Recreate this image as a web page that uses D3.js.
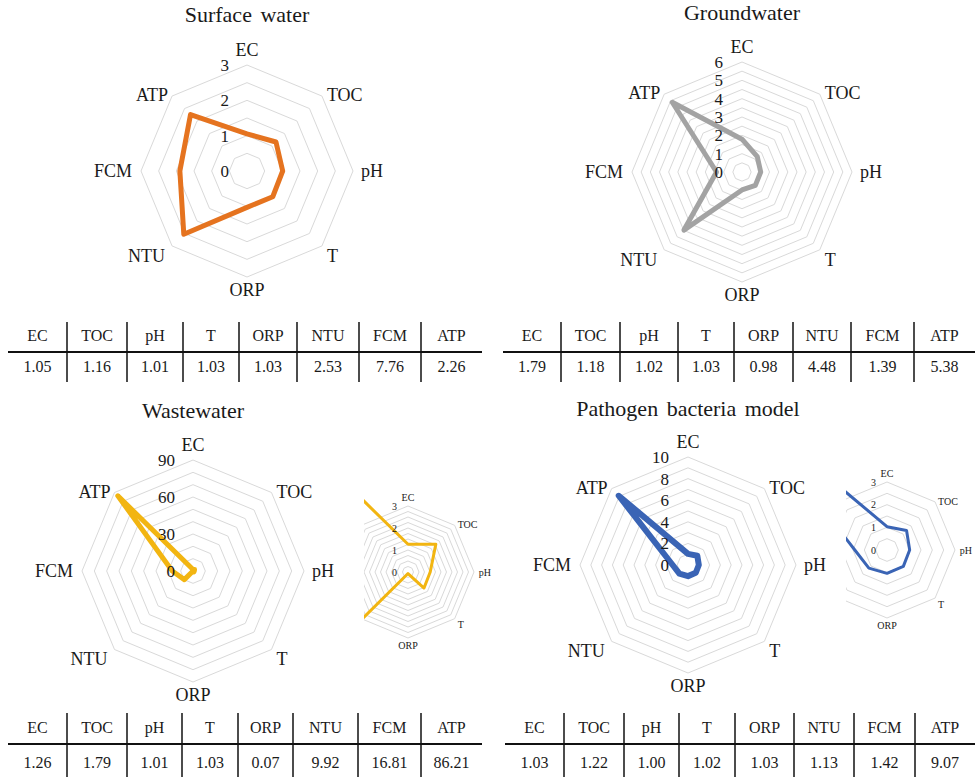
<!DOCTYPE html>
<html>
<head>
<meta charset="utf-8">
<script src="https://cdn.jsdelivr.net/npm/d3@7/dist/d3.min.js"></script>
<style>
  body { margin: 0; background: #fff; }
  svg { display: block; font-family: "Liberation Serif", "Times New Roman", serif; }
</style>
</head>
<body>
<svg id="chart" width="976" height="777"></svg>
<script>
// Water-quality parameters, clockwise from the top
const axes = ["EC", "TOC", "pH", "T", "ORP", "NTU", "FCM", "ATP"];

// Values plotted on each radar
const surfaceValues  = [1.05, 1.16, 1.01, 1.03, 1.03, 2.53, 1.9, 2.26];
const groundValues   = [1.79, 1.18, 1.02, 1.03, 0.98, 4.48, 1.39, 5.38];
const wasteValues    = [1.26, 1.79, 1.01, 1.03, 0.07, 9.92, 16.81, 86.21];
const pathogenValues = [1.03, 1.22, 1.00, 1.02, 1.03, 1.13, 1.42, 9.07];

// Values listed in the tables under each radar
const surfaceTable  = ["1.05", "1.16", "1.01", "1.03", "1.03", "2.53", "7.76", "2.26"];
const groundTable   = ["1.79", "1.18", "1.02", "1.03", "0.98", "4.48", "1.39", "5.38"];
const wasteTable    = ["1.26", "1.79", "1.01", "1.03", "0.07", "9.92", "16.81", "86.21"];
const pathogenTable = ["1.03", "1.22", "1.00", "1.02", "1.03", "1.13", "1.42", "9.07"];

// Radial axis tick labels
const surfaceTicks  = [0, 1, 2, 3];
const groundTicks   = [0, 1, 2, 3, 4, 5, 6];
const wasteTicks    = [0, 30, 60, 90];
const pathogenTicks = [0, 2, 4, 6, 8, 10];
const zoomTicks     = [0, 1, 2, 3];

const svg = d3.select("#chart");
const angleOf = i => i * 2 * Math.PI / axes.length;

function radar(o) {
  let root = svg.append("g");
  if (o.clip) {
    const id = "clip" + Math.random().toString(36).slice(2, 8);
    svg.append("clipPath").attr("id", id)
      .append("rect").attr("x", o.clip.x).attr("y", o.clip.y)
      .attr("width", o.clip.w).attr("height", o.clip.h);
    root.attr("clip-path", `url(#${id})`);
  }
  const g = root.append("g").attr("transform", `translate(${o.cx},${o.cy})`);
  const r = d3.scaleLinear().domain([0, o.max]).range([0, o.R]);

  const ringLine = d3.lineRadial()
    .angle((d, i) => angleOf(i))
    .radius(d => r(d))
    .curve(d3.curveLinearClosed);

  // concentric octagon gridlines
  const rings = d3.range(o.step, o.max + o.step / 2, o.step);
  g.selectAll("path.ring").data(rings).join("path")
    .attr("class", "ring")
    .attr("d", v => ringLine(axes.map(() => v)))
    .attr("fill", "none")
    .attr("stroke", "#d9d9d9")
    .attr("stroke-width", o.gridWidth || 1);

  // data polygon
  g.append("path")
    .attr("d", ringLine(o.values))
    .attr("fill", "none")
    .attr("stroke", o.color)
    .attr("stroke-width", o.lineWidth)
    .attr("stroke-linejoin", "round");

  // axis category labels (the cropped close-ups only keep the right-hand side)
  const s = o.labelScale || 1;
  axes.forEach((name, i) => {
    if (o.clip && i > 4) return;
    const a = angleOf(i);
    const vx = r(o.max) * Math.sin(a), vy = -r(o.max) * Math.cos(a);
    let anchor = "middle", dx = 0, dy = 0;
    if (i === 0) { dy = -9 * s; }
    else if (i === 4) { dy = 19 * s; }
    else if (i === 1) { anchor = "start"; dx = 5 * s; dy = 5 * s; }
    else if (i === 2) { anchor = "start"; dx = 8 * s; dy = 6 * s; }
    else if (i === 3) { anchor = "start"; dx = 5 * s; dy = 16 * s; }
    else if (i === 5) { anchor = "end"; dx = -7 * s; dy = 16 * s; }
    else if (i === 6) { anchor = "end"; dx = -9 * s; dy = 6 * s; }
    else if (i === 7) { anchor = "end"; dx = -4 * s; dy = 5 * s; }
    g.append("text")
      .attr("x", vx + dx).attr("y", vy + dy)
      .attr("text-anchor", anchor)
      .attr("font-size", o.labelFont)
      .attr("fill", "#1a1a1a")
      .text(name);
  });

  // radial tick labels, drawn over the data line
  g.selectAll("text.tick").data(o.ticks).join("text")
    .attr("class", "tick")
    .attr("x", -o.tickOffset)
    .attr("y", v => -r(v))
    .attr("dy", "0.35em")
    .attr("text-anchor", "end")
    .attr("font-size", o.tickFont)
    .attr("fill", "#1a1a1a")
    .text(d => d);

  if (o.title) {
    svg.append("text")
      .attr("x", o.cx).attr("y", o.titleY)
      .attr("text-anchor", "middle")
      .attr("font-size", 22)
      .attr("word-spacing", 3)
      .attr("fill", "#1a1a1a")
      .text(o.title);
  }
}

function table(o) {
  const g = svg.append("g");
  const edges = [o.x0, ...o.seps, o.x1];
  const centers = axes.map((d, i) => (edges[i] + edges[i + 1]) / 2);
  g.selectAll("line.sep").data(o.seps).join("line")
    .attr("x1", d => d).attr("x2", d => d)
    .attr("y1", o.yTop).attr("y2", o.yBottom)
    .attr("stroke", "#111").attr("stroke-width", 1.5);
  g.append("line")
    .attr("x1", o.x0).attr("x2", o.x1)
    .attr("y1", o.ruleY).attr("y2", o.ruleY)
    .attr("stroke", "#111").attr("stroke-width", 2);
  g.selectAll("text.head").data(axes).join("text")
    .attr("x", (d, i) => centers[i]).attr("y", o.headY)
    .attr("text-anchor", "middle").attr("font-size", 16).attr("fill", "#1a1a1a")
    .text(d => d);
  g.selectAll("text.val").data(o.values).join("text")
    .attr("x", (d, i) => centers[i]).attr("y", o.valY)
    .attr("text-anchor", "middle").attr("font-size", 16).attr("fill", "#1a1a1a")
    .text(d => d);
}

// Surface water
radar({ cx: 247, cy: 171, R: 106, max: 3, step: 0.5, ticks: surfaceTicks,
  values: surfaceValues, color: "#e5731f", lineWidth: 5,
  labelFont: 18, tickFont: 17, tickOffset: 18,
  title: "Surface water", titleY: 22 });

// Groundwater
radar({ cx: 742, cy: 172, R: 110, max: 6, step: 0.5, ticks: groundTicks,
  values: groundValues, color: "#a3a3a3", lineWidth: 5,
  labelFont: 18, tickFont: 17, tickOffset: 19,
  title: "Groundwater", titleY: 20 });

// Wastewater
radar({ cx: 193, cy: 571, R: 111, max: 90, step: 10, ticks: wasteTicks,
  values: wasteValues, color: "#f2b511", lineWidth: 5,
  labelFont: 18, tickFont: 17, tickOffset: 18,
  title: "Wastewater", titleY: 418 });

// Wastewater, enlarged 0-3 range
radar({ cx: 408, cy: 572, R: 66, max: 3, step: 0.25, ticks: zoomTicks,
  values: wasteValues, color: "#f2b511", lineWidth: 3,
  labelFont: 10, tickFont: 10, tickOffset: 11, labelScale: 0.6,
  clip: { x: 364, y: 470, w: 140, h: 200 } });

// Pathogen bacteria model
radar({ cx: 688, cy: 565, R: 108, max: 10, step: 1, ticks: pathogenTicks,
  values: pathogenValues, color: "#3a64b5", lineWidth: 6,
  labelFont: 18, tickFont: 17, tickOffset: 19,
  title: "Pathogen bacteria model", titleY: 416 });

// Pathogen bacteria model, enlarged 0-3 range
radar({ cx: 887, cy: 550, R: 68, max: 3, step: 0.5, ticks: zoomTicks,
  values: pathogenValues, color: "#3a64b5", lineWidth: 3,
  labelFont: 10, tickFont: 10, tickOffset: 11, labelScale: 0.6,
  clip: { x: 846, y: 466, w: 130, h: 200 } });

// Tables
table({ x0: 8, x1: 482, seps: [67, 127, 183, 239, 297, 359, 421],
  yTop: 322, yBottom: 382, ruleY: 352, headY: 341, valY: 372, values: surfaceTable });
table({ x0: 503, x1: 975, seps: [561, 620, 678, 734, 793, 851, 914],
  yTop: 322, yBottom: 382, ruleY: 352, headY: 341, valY: 372, values: groundTable });
table({ x0: 8, x1: 482, seps: [67, 127, 182, 238, 293, 358, 421],
  yTop: 713, yBottom: 777, ruleY: 744, headY: 733, valY: 768, values: wasteTable });
table({ x0: 505, x1: 975, seps: [564, 624, 679, 735, 794, 854, 915],
  yTop: 713, yBottom: 777, ruleY: 744, headY: 733, valY: 768, values: pathogenTable });
</script>
</body>
</html>
